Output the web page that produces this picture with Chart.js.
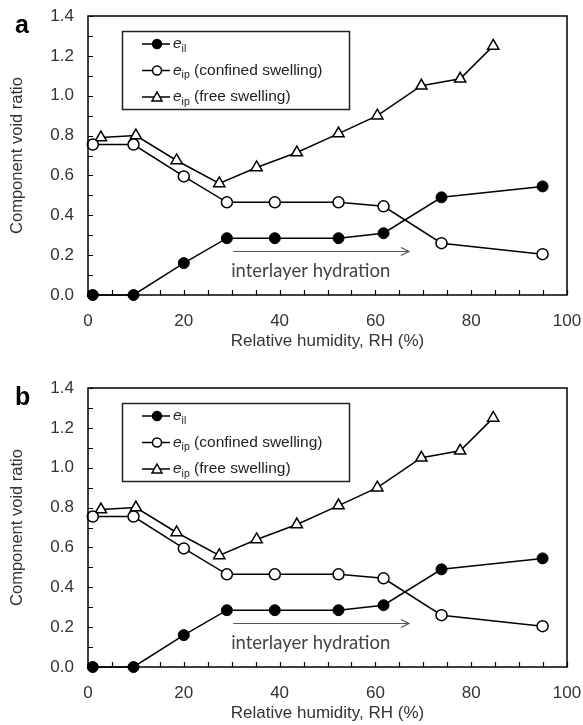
<!DOCTYPE html>
<html>
<head>
<meta charset="utf-8">
<script src="https://cdn.jsdelivr.net/npm/chart.js@4"></script>
<style>
  html, body { margin: 0; padding: 0; background: #fff; }
  #wrap { position: relative; width: 583px; height: 725px; }
  canvas { position: absolute; left: 0; }
  #chartA { top: 0; }
  #chartB { top: 372px; }
</style>
</head>
<body>
<div id="wrap">
  <canvas id="chartA" width="583" height="353"></canvas>
  <canvas id="chartB" width="583" height="353"></canvas>
</div>
<script>
// RH (%) for interlayer and confined swelling points
const rhConfined = [1, 9.5, 20, 29, 39, 52.3, 61.7, 73.8, 94.9];
const eIl = [0, 0, 0.16, 0.285, 0.285, 0.285, 0.31, 0.49, 0.545];
const eIpConfined = [0.755, 0.755, 0.595, 0.465, 0.465, 0.465, 0.445, 0.26, 0.205];

// RH (%) for free swelling points
const rhFree = [2.7, 10, 18.5, 27.4, 35.2, 43.6, 52.3, 60.4, 69.6, 77.7, 84.6];
const eIpFree = [0.79, 0.80, 0.675, 0.56, 0.64, 0.715, 0.81, 0.90, 1.05, 1.085, 1.25];

const xTicks = [0, 20, 40, 60, 80, 100];
const yTicks = [0, 0.2, 0.4, 0.6, 0.8, 1.0, 1.2, 1.4];

// arrow "interlayer hydration" (data units)
const arrowFrom = [30.3, 0.222];
const arrowTo = [67, 0.222];
const arrowLabel = 'interlayer hydration';

function pts(xs, ys) {
    return xs.map((x, i) => ({ x: x, y: ys[i] }));
}

// frame, inward ticks, legend, arrow, panel letter
const decorPlugin = {
    id: 'decor',
    afterDraw(chart, args, opts) {
        const ctx = chart.ctx;
        const a = chart.chartArea;
        const xs = chart.scales.x;
        const ys = chart.scales.y;
        ctx.save();

        // frame
        ctx.strokeStyle = '#000';
        ctx.lineWidth = 1.5;
        ctx.strokeRect(a.left, a.top, a.right - a.left, a.bottom - a.top);

        // inward ticks
        ctx.lineWidth = 1.2;
        ctx.beginPath();
        for (let v = 0; v <= 100; v += 5) {
            const px = Math.round(xs.getPixelForValue(v)) + 0.5;
            ctx.moveTo(px, a.bottom);
            ctx.lineTo(px, a.bottom - 5);
        }
        for (let i = 0; i <= 14; i++) {
            const py = Math.round(ys.getPixelForValue(i / 10)) + 0.5;
            ctx.moveTo(a.left, py);
            ctx.lineTo(a.left + 5, py);
        }
        ctx.stroke();

        // arrow
        const x1 = xs.getPixelForValue(arrowFrom[0]);
        const x2 = xs.getPixelForValue(arrowTo[0]);
        const ay = Math.round(ys.getPixelForValue(arrowFrom[1])) + 0.5;
        ctx.strokeStyle = '#555';
        ctx.lineWidth = 1.2;
        ctx.beginPath();
        ctx.moveTo(x1, ay);
        ctx.lineTo(x2, ay);
        ctx.moveTo(x2 - 8, ay - 4);
        ctx.lineTo(x2, ay);
        ctx.lineTo(x2 - 8, ay + 4);
        ctx.stroke();
        ctx.fillStyle = '#444';
        ctx.font = '18.5px Lato';
        ctx.textAlign = 'left';
        ctx.textBaseline = 'middle';
        ctx.fillText(arrowLabel, x1 - 2, ay + 20);

        // legend
        const lx = 122, ly = a.top + 15;
        ctx.strokeStyle = '#222';
        ctx.lineWidth = 1.5;
        ctx.strokeRect(lx + 0.5, ly + 0.5, 227, 78);
        const items = [
            { sub: 'il', rest: '' },
            { sub: 'ip', rest: ' (confined swelling)' },
            { sub: 'ip', rest: ' (free swelling)' }
        ];
        items.forEach((it, i) => {
            const ds = chart.data.datasets[i];
            const cy = ly + 13 + i * 26.5;
            ctx.strokeStyle = '#000';
            ctx.lineWidth = 1.5;
            ctx.beginPath();
            ctx.moveTo(142, cy);
            ctx.lineTo(170, cy);
            ctx.stroke();
            ctx.fillStyle = ds.pointBackgroundColor;
            ctx.beginPath();
            if (ds.pointStyle === 'triangle') {
                ctx.moveTo(157, cy - 5);
                ctx.lineTo(162, cy + 4);
                ctx.lineTo(152, cy + 4);
                ctx.closePath();
            } else {
                ctx.arc(157, cy, 4.5, 0, Math.PI * 2);
            }
            ctx.fill();
            ctx.stroke();

            ctx.fillStyle = '#222';
            ctx.textBaseline = 'middle';
            ctx.font = 'italic 15.5px "Liberation Sans"';
            ctx.fillText('e', 173, cy);
            let tx = 173 + ctx.measureText('e').width;
            ctx.font = '10.5px "Liberation Sans"';
            ctx.fillText(it.sub, tx, cy + 5);
            tx += ctx.measureText(it.sub).width;
            ctx.font = '15.5px "Liberation Sans"';
            ctx.fillText(it.rest, tx, cy);
        });

        // panel letter
        ctx.fillStyle = '#000';
        ctx.font = 'bold 25px "Liberation Sans"';
        ctx.textAlign = 'left';
        ctx.textBaseline = 'alphabetic';
        ctx.fillText(opts.letter, 15, 33);

        ctx.restore();
    }
};

function makeChart(id, letter) {
    const ctx = document.getElementById(id).getContext('2d');
    return new Chart(ctx, {
        type: 'scatter',
        data: {
            datasets: [
                {
                    label: 'e_il',
                    data: pts(rhConfined, eIl),
                    showLine: true,
                    borderColor: '#000',
                    borderWidth: 1.5,
                    pointStyle: 'circle',
                    pointRadius: 5.5,
                    pointBackgroundColor: '#000',
                    pointBorderColor: '#000',
                    pointBorderWidth: 1,
                    clip: false
                },
                {
                    label: 'e_ip (confined swelling)',
                    data: pts(rhConfined, eIpConfined),
                    showLine: true,
                    borderColor: '#000',
                    borderWidth: 1.5,
                    pointStyle: 'circle',
                    pointRadius: 5.5,
                    pointBackgroundColor: '#fff',
                    pointBorderColor: '#000',
                    pointBorderWidth: 1.5,
                    clip: false
                },
                {
                    label: 'e_ip (free swelling)',
                    data: pts(rhFree, eIpFree),
                    showLine: true,
                    borderColor: '#000',
                    borderWidth: 1.5,
                    pointStyle: 'triangle',
                    pointRadius: 6.5,
                    pointBackgroundColor: '#fff',
                    pointBorderColor: '#000',
                    pointBorderWidth: 1.5,
                    clip: false
                }
            ]
        },
        options: {
            responsive: false,
            animation: false,
            devicePixelRatio: 1,
            layout: { autoPadding: false, padding: { top: 16, right: 16, left: 0, bottom: 0 } },
            plugins: {
                legend: { display: false },
                tooltip: { enabled: false },
                decor: { letter: letter }
            },
            scales: {
                x: {
                    type: 'linear',
                    min: 0,
                    max: 100,
                    afterBuildTicks: s => { s.ticks = xTicks.map(v => ({ value: v })); },
                    afterFit: s => { s.height = 58; s.paddingLeft = 0; s.paddingRight = 0; },
                    grid: { display: false, drawTicks: false },
                    border: { display: false },
                    ticks: {
                        padding: 16,
                        color: '#333',
                        font: { family: 'Liberation Sans', size: 17 },
                        maxRotation: 0
                    },
                    title: {
                        display: true,
                        text: 'Relative humidity, RH (%)',
                        color: '#333',
                        font: { family: 'Liberation Sans', size: 17 },
                        padding: { top: 0, bottom: 1 }
                    }
                },
                y: {
                    type: 'linear',
                    min: 0,
                    max: 1.4,
                    afterBuildTicks: s => { s.ticks = yTicks.map(v => ({ value: v })); },
                    afterFit: s => { s.width = 88; s.paddingTop = 0; s.paddingBottom = 0; },
                    grid: { display: false, drawTicks: false },
                    border: { display: false },
                    ticks: {
                        padding: 14,
                        color: '#333',
                        font: { family: 'Liberation Sans', size: 17 },
                        callback: v => v.toFixed(1)
                    },
                    title: {
                        display: true,
                        text: 'Component void ratio',
                        color: '#333',
                        font: { family: 'Liberation Sans', size: 16.5 },
                        padding: { top: 8, bottom: 0 }
                    }
                }
            }
        },
        plugins: [decorPlugin]
    });
}

makeChart('chartA', 'a');
makeChart('chartB', 'b');
</script>
</body>
</html>
